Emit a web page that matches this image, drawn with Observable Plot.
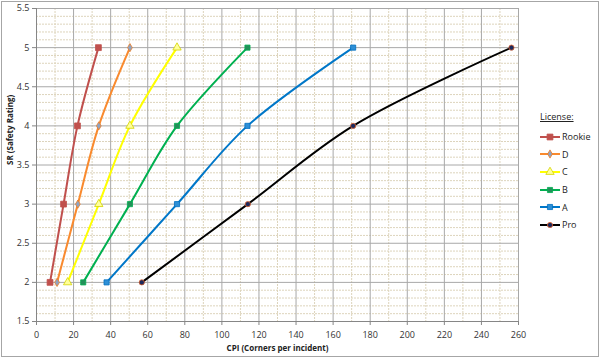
<!DOCTYPE html>
<html><head><meta charset="utf-8">
<script src="https://cdn.jsdelivr.net/npm/d3@7"></script>
<script src="https://cdn.jsdelivr.net/npm/@observablehq/plot@0.6"></script>
<style>
html,body{margin:0;padding:0;background:#fff;}
#wrap{position:relative;width:600px;height:358px;font-family:"Open Sans","Liberation Sans",sans-serif;}
#border{position:absolute;left:1px;top:1px;width:596px;height:354px;border:1px solid #a6a6a6;pointer-events:none;}
#legend{position:absolute;left:540px;top:110px;font-size:9px;color:#222;}
#legend .title{text-decoration:underline;margin-bottom:5px;}
#legend .row{display:flex;align-items:center;height:17.6px;}
#legend svg{margin-right:2px;}
</style>
</head><body>
<div id="wrap"><div id="border"></div><div id="legend"></div></div>
<script>
const srLevels = [2, 3, 4, 5];
const rookieCPI = [7.3, 14.6, 22.1, 33.4];
const dCPI = [11.1, 22.3, 33.6, 50.4];
const cCPI = [16.8, 33.6, 50.4, 75.8];
const bCPI = [25.2, 50.4, 75.8, 113.8];
const aCPI = [37.8, 75.8, 113.8, 170.8];
const proCPI = [56.8, 114, 170.8, 256.2];
const xTicks = [0, 20, 40, 60, 80, 100, 120, 140, 160, 180, 200, 220, 240, 260];
const yTicks = [1.5, 2, 2.5, 3, 3.5, 4, 4.5, 5, 5.5];

const series = [
  {name: "Rookie", cpi: rookieCPI, line: "#c0504d", symbol: "square", fill: "#c0504d", stroke: "#c0504d", r: 3.3},
  {name: "D", cpi: dCPI, line: "#f98a2e", symbol: "diamond", fill: "#8ea4c4", stroke: "#f07b20", r: 2.5},
  {name: "C", cpi: cCPI, line: "#ffff00", symbol: "triangle", fill: "#ffff99", stroke: "#d4d400", r: 3.1},
  {name: "B", cpi: bCPI, line: "#00b050", symbol: "square", fill: "#23905a", stroke: "#00b050", r: 2.9},
  {name: "A", cpi: aCPI, line: "#0077c8", symbol: "square", fill: "#2e8fd6", stroke: "#0070c0", r: 2.9},
  {name: "Pro", cpi: proCPI, line: "#000000", symbol: "circle", fill: "#1b2a5e", stroke: "#e0602a", r: 2.6}
];
const rows = series.map(s => ({...s, data: srLevels.map((sr, i) => ({cpi: s.cpi[i], sr}))}));

const minorX = d3.range(10, 260, 20);
const majorX = xTicks.slice(1);
const minorY = d3.range(15, 56).map(v => v / 10).filter(v => Math.round(v * 10) % 5 !== 0);
const majorY = yTicks.slice(1);

const marks = [
  Plot.ruleX(minorX, {stroke: "#ddd4bc", strokeDasharray: "2,1", strokeOpacity: 1}),
  Plot.ruleY(minorY, {stroke: "#ddd4bc", strokeDasharray: "2,1", strokeOpacity: 1}),
  Plot.ruleX(majorX, {stroke: "#a8a8a8"}),
  Plot.ruleY(majorY, {stroke: "#a8a8a8"}),
  Plot.ruleX([0], {stroke: "#868686"}),
  Plot.ruleY([1.5], {stroke: "#868686"}),
  Plot.axisX({ticks: xTicks, tickSize: 4, tickPadding: 6, stroke: "#868686", fill: "#333", fontSize: 9, label: null}),
  Plot.axisY({ticks: yTicks, tickSize: 4, tickPadding: 3, stroke: "#868686", fill: "#333", fontSize: 9, label: null, tickFormat: d => String(d)}),
  Plot.text(["CPI (Corners per incident)"], {frameAnchor: "bottom", dy: 29, fontSize: 8, fontWeight: "bold", fill: "#222"}),
  Plot.text(["SR (Safety Rating)"], {frameAnchor: "left", dx: -26, rotate: -90, fontSize: 8, fontWeight: "bold", fill: "#222"})
];
for (const s of rows) {
  marks.push(Plot.line(s.data, {x: "cpi", y: "sr", stroke: s.line, strokeWidth: 2, curve: "catmull-rom"}));
}
for (const s of rows) {
  marks.push(Plot.dot(s.data, {x: "cpi", y: "sr", symbol: () => s.symbol, r: s.r, fill: s.fill, stroke: s.stroke, strokeWidth: 0.8}));
}

const chart = Plot.plot({
  width: 600, height: 358,
  marginLeft: 36, marginRight: 82, marginTop: 8, marginBottom: 37,
  style: {fontFamily: "'Open Sans','Liberation Sans',sans-serif", background: "transparent"},
  x: {domain: [0, 260]},
  y: {domain: [1.5, 5.5]},
  symbol: {type: "identity"},
  marks
});
const wrap = document.getElementById("wrap");
chart.style.position = "absolute";
chart.style.left = "0"; chart.style.top = "0";
wrap.insertBefore(chart, wrap.firstChild);

const legend = d3.select("#legend");
legend.append("div").attr("class", "title").text("License:");
for (const s of series) {
  const row = legend.append("div").attr("class", "row");
  const ls = row.append("svg").attr("width", 20).attr("height", 10);
  ls.append("line").attr("x1", 0).attr("x2", 20).attr("y1", 5).attr("y2", 5).attr("stroke", s.line).attr("stroke-width", 2);
  ls.append("path").attr("transform", "translate(10,5)")
    .attr("d", d3.symbol(s.symbol === "square" ? d3.symbolSquare : s.symbol === "diamond" ? d3.symbolDiamond : s.symbol === "triangle" ? d3.symbolTriangle : d3.symbolCircle, Math.PI * s.r * s.r)())
    .attr("fill", s.fill).attr("stroke", s.stroke).attr("stroke-width", 0.8);
  row.append("span").text(s.name);
}
</script>
</body></html>
